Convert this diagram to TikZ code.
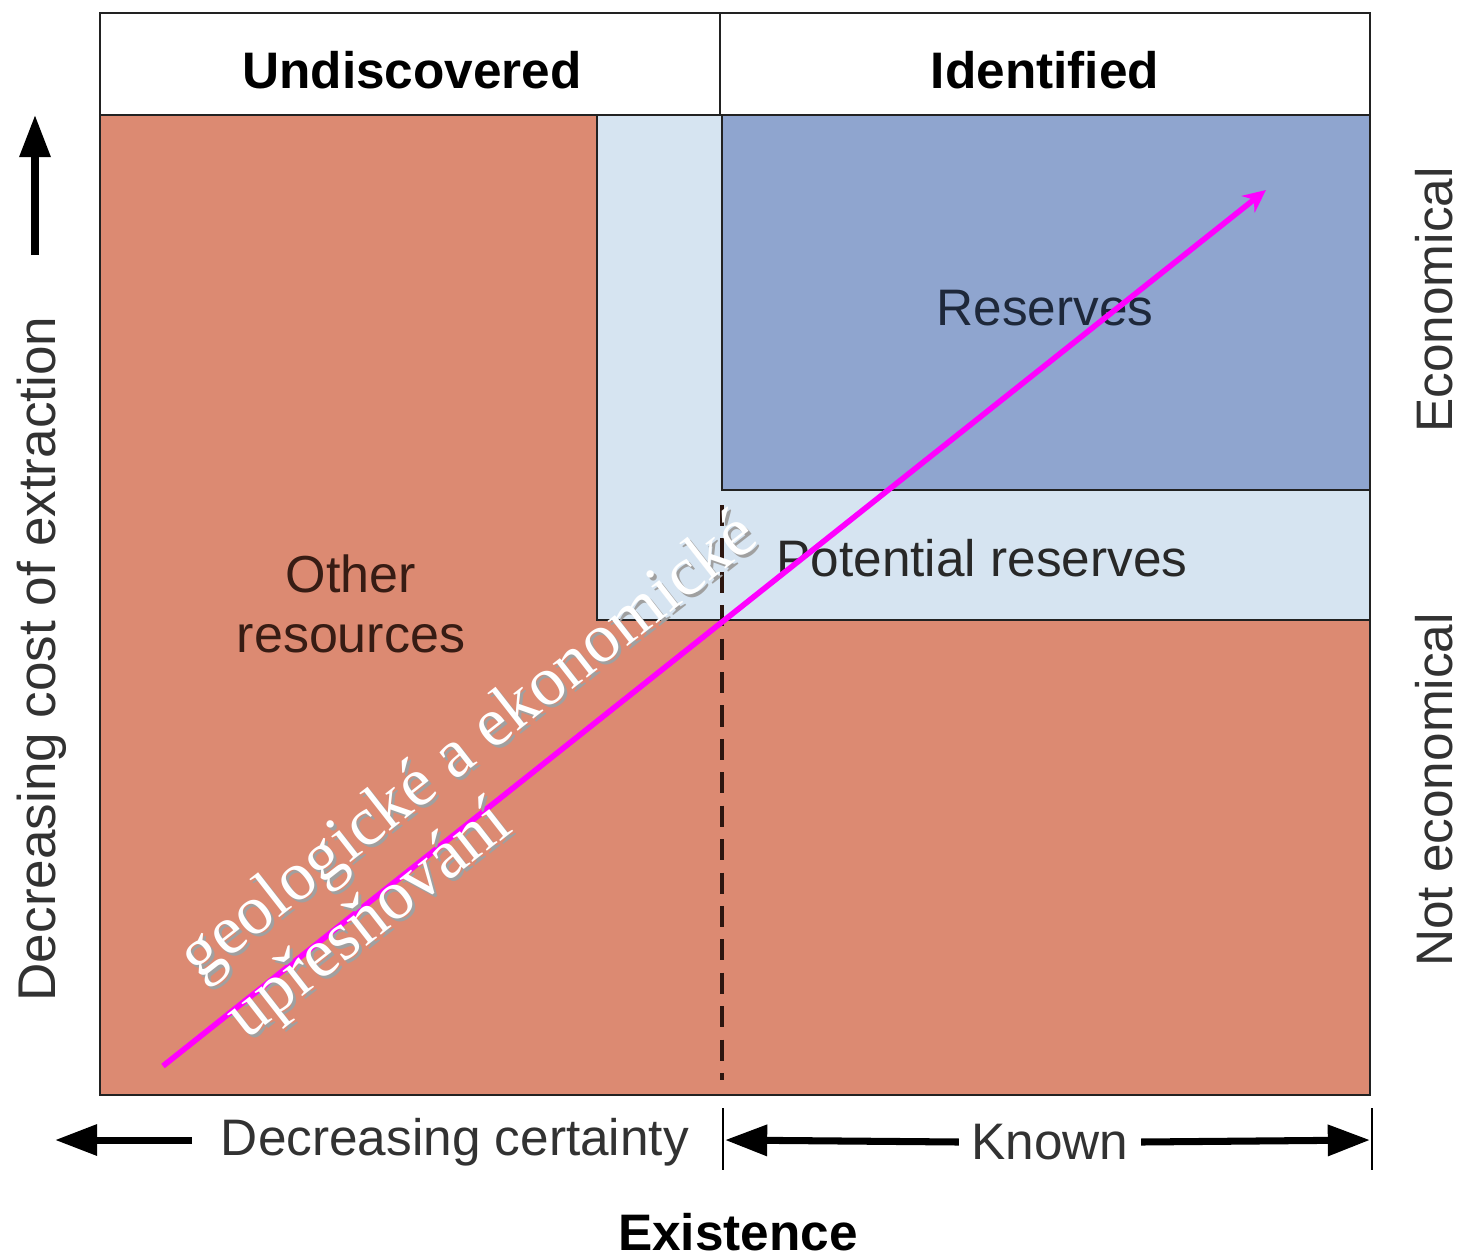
\documentclass[tikz,border=0pt]{standalone}
\usepackage{fontspec}
\setmainfont{Liberation Sans}
\newfontfamily\serifcz{Liberation Serif}
\usetikzlibrary{arrows.meta}
\definecolor{salmon}{RGB}{220,138,114}
\definecolor{resblue}{RGB}{143,165,207}
\definecolor{paleblue}{RGB}{214,228,241}
\definecolor{framecol}{RGB}{34,34,34}
\definecolor{txtgrey}{RGB}{50,50,50}
\definecolor{resnavy}{RGB}{30,40,58}
\definecolor{othbrown}{RGB}{55,28,20}
\definecolor{shadowgrey}{RGB}{160,160,160}
\definecolor{refmagenta}{RGB}{255,0,255}
\begin{document}
\begin{tikzpicture}[x=0.01cm,y=-0.01cm,
  frame/.style={draw=framecol,line width=0.8pt},
  dashline/.style={draw=othbrown!80!black,line width=0.9pt,dash pattern=on 6pt off 3.5pt},
  hdr/.style={font=\bfseries\fontsize{14.6}{17}\selectfont,text=black,inner sep=0pt},
  lbl/.style={font=\fontsize{14.6}{17}\selectfont,text=txtgrey,inner sep=0pt},
  bigarrow/.style={draw=black,line width=2pt,-{Triangle[length=12pt,width=8.5pt]}},
  tick/.style={draw=black,line width=0.6pt},
  refine/.style={draw=refmagenta,line width=1.6pt,-{Stealth[length=6.5pt,width=6pt]}},
  cztext/.style={font=\serifcz\fontsize{19.8}{21.5}\selectfont,align=left,rotate=38,inner sep=0pt}
]
\useasboundingbox (0,0) rectangle (1459,1256);
\fill[white] (0,0) rectangle (1459,1256);
% regions
\fill[salmon] (100,115) rectangle (1370,1095);
\fill[paleblue] (597,115) rectangle (1370,620);
\fill[resblue] (722,115) rectangle (1370,490);
% borders
\draw[frame] (100,13) rectangle (1370,1095);
\draw[frame] (100,115) -- (1370,115);
\draw[frame] (720,13) -- (720,115);
\draw[frame] (597,115) -- (597,620) -- (1370,620);
\draw[frame] (722,115) -- (722,490) -- (1370,490);
\draw[dashline] (722,505) -- (722,1080);
% header labels
\node[hdr] (undisc) at (412,70) {Undiscovered};
\node[hdr] (ident) at (1045,70) {Identified};
% region labels
\node[lbl,text=resnavy] (reserves) at (1045,308) {Reserves};
\node[lbl,text=txtgrey!80!black] (potential) at (982,558) {Potential reserves};
\node[lbl,text=othbrown,align=center,font=\fontsize{14.8}{17.2}\selectfont] (other) at (351,604) {Other\\resources};
% axis labels
\node[lbl,rotate=90,font=\fontsize{15.1}{17}\selectfont] (ycost) at (42,659) {Decreasing cost of extraction};
\node[lbl,rotate=90] (econ) at (1434,300) {Economical};
\node[lbl,rotate=90] (notecon) at (1434,790) {Not economical};
\node[lbl] (certainty) at (455,1142) {Decreasing certainty};
\node[lbl] (known) at (1050,1142) {Known};
\node[hdr] (exist) at (738,1232) {Existence};
% axis arrows
\coordinate (upS) at (35,255);
\coordinate (upT) at (35,115);
\draw[bigarrow] (upS) -- (upT);
\coordinate (lS) at (192,1140);
\coordinate (lT) at (55,1140);
\draw[bigarrow] (lS) -- (lT);
\coordinate (kL) at (725,1140);
\coordinate (kR) at (1370,1140);
\draw[bigarrow] (known.west) ++(-12,0) coordinate (kLs) -- (kL);
\draw[bigarrow] (known.east) ++(12,0) coordinate (kRs) -- (kR);
\coordinate (t1a) at (723,1108);
\coordinate (t1b) at (723,1170);
\draw[tick] (t1a) -- (t1b);
\coordinate (t2a) at (1372,1108);
\coordinate (t2b) at (1372,1170);
\draw[tick] (t2a) -- (t2b);
% refinement arrow
\coordinate (rS) at (163,1066);
\coordinate (rT) at (1266,190);
\draw[refine] (rS) -- (rT);
% slanted Czech text with shadow
\node[cztext,text=shadowgrey] (czshadow) at (496,781) {geologické a ekonomické\\upřesňování};
\node[cztext,text=white] (cz) at (493,778) {geologické a ekonomické\\upřesňování};
\end{tikzpicture}
\end{document}
